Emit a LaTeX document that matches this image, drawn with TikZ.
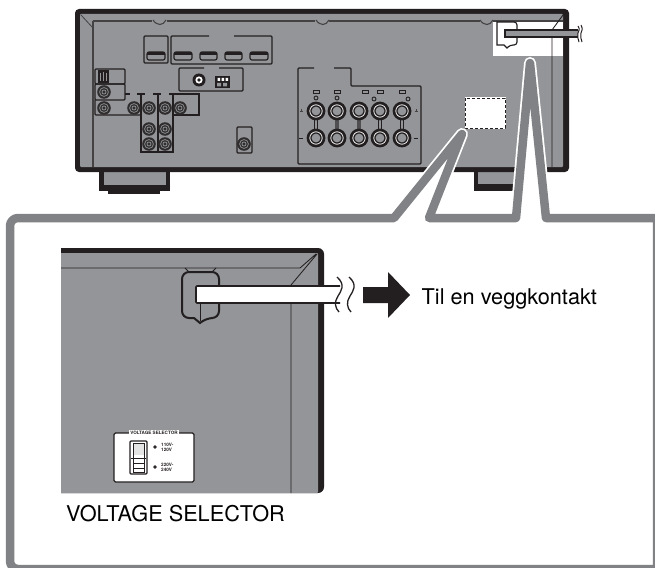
\documentclass[tikz,border=0pt]{standalone}
\usepackage{fontspec}
\setmainfont{TeX Gyre Heros}
\definecolor{panelgray}{HTML}{939598}
\definecolor{calloutgray}{HTML}{808285}
\definecolor{inkblack}{HTML}{231F20}

\begin{document}
\begin{tikzpicture}[x=1pt, y=-1pt,
  boxline/.style={draw=inkblack, line width=1.15pt},
  thinline/.style={draw=inkblack, line width=0.85pt},
  jackbody/.style={fill=inkblack!88!panelgray},
  jackring/.style={draw=panelgray, line width=0.7pt},
  postring/.style={draw=white!85!panelgray, line width=0.8pt},
  bigtext/.style={inner sep=0pt, font=\fontsize{21.7}{25}\selectfont},
  tinytext/.style={inner sep=0pt, text=inkblack, align=left, font=\fontsize{4.6}{5.2}\selectfont\bfseries}]
\useasboundingbox (0,0) rectangle (655,567);
% receiver
\fill[inkblack] (99,170) rectangle (170,191);
\fill[inkblack] (108,190) rectangle (160,194);
\fill[panelgray] (104,172) rectangle (166,185);
\fill[inkblack] (474,170) rectangle (530,191);
\fill[panelgray] (478,172) rectangle (530,184);
\fill[inkblack, rounded corners=4pt] (75,9) rectangle (569,172);
\fill[panelgray, rounded corners=1pt] (80,14) rectangle (563,167);
\draw[inkblack!70!panelgray, line width=1.6pt] (93,21) -- (563,21);
\draw[inkblack!70!panelgray, line width=1.1pt] (93,21) -- (93,167);
\draw[inkblack!70!panelgray, line width=0.8pt] (81,15) -- (93,28);
\draw[panelgray, line width=1.8pt] (152,20.8) -- (167,20.8);
\draw[inkblack!70!panelgray, line width=1.1pt] (153,20) .. controls (157,26) and (163,26) .. (166,20);
\draw[panelgray, line width=1.8pt] (315,20.8) -- (329,20.8);
\draw[inkblack!70!panelgray, line width=1.1pt] (316,20) .. controls (320,26) and (326,26) .. (329,20);
\draw[panelgray, line width=1.8pt] (480,20.8) -- (493,20.8);
\draw[inkblack!70!panelgray, line width=1.1pt] (480,20) .. controls (484,26) and (490,26) .. (493,20);
% hdmi block
\draw[boxline, rounded corners=1pt] (144,36) rectangle (168,63);
\draw[boxline, rounded corners=1pt] (209,36) -- (171,36) -- (171,64) -- (272,64) -- (272,36) -- (234,36);
\draw[boxline, rounded corners=2pt] (147,52) rectangle (165,60);
\fill[inkblack] (147,52) rectangle (165,55);
\draw[boxline, rounded corners=2pt] (174,52) rectangle (192,60);
\fill[inkblack] (174,52) rectangle (192,55);
\draw[boxline, rounded corners=2pt] (200,52) rectangle (217,60);
\fill[inkblack] (200,52) rectangle (217,55);
\draw[boxline, rounded corners=2pt] (225,52) rectangle (242,60);
\fill[inkblack] (225,52) rectangle (242,55);
\draw[boxline, rounded corners=2pt] (250,52) rectangle (268,60);
\fill[inkblack] (250,52) rectangle (268,55);
% antenna block
\draw[boxline, rounded corners=1pt] (204,68) -- (179,68) -- (179,91) -- (243,91) -- (243,68) -- (219,68);
\fill[inkblack] (199,80) circle (6.5);
\fill[white] (199,80) circle (3.6);
\fill[inkblack] (199,80) circle (1.8);
\fill[inkblack] (215,76) rectangle (230,88);
\fill[white] (217.5,78) rectangle (220,81) (221.5,78) rectangle (224,81) (225.5,78) rectangle (228,81);
\fill[panelgray] (217,83) rectangle (221,86.5) (223,83) rectangle (227,86.5);
% left inputs
\draw[boxline, rounded corners=1pt] (95,69) rectangle (125,84);
\draw[boxline, rounded corners=1pt] (95,84) rectangle (125,100);
\draw[boxline, rounded corners=1pt] (95,100) -- (95,115) -- (141,115);
\fill[inkblack] (98,70) rectangle (109,83);
\draw[panelgray, line width=0.7pt] (100.5,73) -- (100.5,81) (103.5,72) -- (103.5,81) (106.5,73) -- (106.5,81);
\draw[boxline] (125,94) -- (130,94) (137,94) -- (145,94) (153,94) -- (161,94) (169,94) -- (199,94) -- (199,115) -- (173,115);
\draw[boxline] (141,94) -- (141,152) -- (173,152) -- (173,94) (158,94) -- (158,152);
\fill[jackbody] (104,92) circle (6.8) (104,108) circle (6.8) (134,108) circle (6.8) (149,108) circle (6.8) (165,108) circle (6.8) (180,108) circle (6.8) (149,129) circle (6.8) (165,129) circle (6.8) (149,144) circle (6.8) (165,144) circle (6.8) (244,144) circle (6.8);
\draw[jackring] (104,92) circle (4.4) (104,108) circle (4.4) (134,108) circle (4.4) (149,108) circle (4.4) (165,108) circle (4.4) (180,108) circle (4.4) (149,129) circle (4.4) (165,129) circle (4.4) (149,144) circle (4.4) (165,144) circle (4.4) (244,144) circle (4.4);
\draw[jackring] (104,92) circle (2) (104,108) circle (2) (134,108) circle (2) (149,108) circle (2) (165,108) circle (2) (180,108) circle (2) (149,129) circle (2) (165,129) circle (2) (149,144) circle (2) (165,144) circle (2) (244,144) circle (2);
\draw[boxline, rounded corners=1pt] (237,127) rectangle (252,153);
% speaker block
\draw[boxline, rounded corners=1pt] (314,68) -- (298,68) -- (298,164) -- (421,164) -- (421,86) -- (351,86) -- (351,68) -- (334,68);
\draw[inkblack, line width=3.5pt] (316,115) -- (316,134) (380,115) -- (380,134) (402,115) -- (402,134);
\draw[panelgray, line width=1.2pt] (316,115) -- (316,134) (380,115) -- (380,134) (402,115) -- (402,134);
\draw[inkblack!60!panelgray, line width=3.5pt] (337,115) -- (337,134) (359,115) -- (359,134);
\fill[inkblack] (316,111) circle (9.4) (337,111) circle (9.4) (359,111) circle (9.4) (380,111) circle (9.4) (402,111) circle (9.4) (316,138) circle (9.4) (337,138) circle (9.4) (359,138) circle (9.4) (380,138) circle (9.4) (402,138) circle (9.4);
\draw[postring] (316,111) circle (6.2) (337,111) circle (6.2) (359,111) circle (6.2) (380,111) circle (6.2) (402,111) circle (6.2) (316,138) circle (6.2) (337,138) circle (6.2) (359,138) circle (6.2) (380,138) circle (6.2) (402,138) circle (6.2);
\fill[panelgray] (316,111) circle (4.4) (337,111) circle (4.4) (359,111) circle (4.4) (380,111) circle (4.4) (402,111) circle (4.4) (316,138) circle (4.4) (337,138) circle (4.4) (359,138) circle (4.4) (380,138) circle (4.4) (402,138) circle (4.4);
\draw[thinline] (313,90.5) rectangle (319,93.5) (334,90.5) rectangle (340,93.5) (362,90.5) rectangle (368,93.5) (377,90.5) rectangle (383,93.5) (399,90.5) rectangle (405,93.5);
\draw[thinline, fill=panelgray] (316,98) circle (2) (337,98) circle (2) (374,99) circle (2) (408,99) circle (2);
\draw[inkblack!70!panelgray, line width=0.4pt] (299.5,111) -- (302.5,111) (301,109.5) -- (301,112.5) (414.5,111) -- (417.5,111) (416,109.5) -- (416,112.5);
\draw[inkblack, line width=0.9pt] (299,138) -- (303,138) (414,138) -- (418,138);
% cut-outs on the rear panel
\fill[white] (493,22) rectangle (563,56);
\draw[white, fill=white, line width=1pt] (465,98) rectangle (505,128);
\draw[inkblack, densely dashed, line width=0.9pt] (465,98) rectangle (505,128);
\draw[thinline] (552,37) -- (552,167) (552,30) -- (563,15);
\draw[boxline, rounded corners=3pt] (497,22) -- (517,22) -- (517,45) -- (510,45) [sharp corners] -- (507,48) -- (504,45) -- (497,45) -- cycle;
\draw[boxline, fill=panelgray] (578,30) -- (505,30) -- (505,37) -- (578,37);
\draw[inkblack, line width=1pt] (578,26) .. controls (580,29) and (579,31) .. (578,33) .. controls (577,36) and (578,39) .. (579,42);
\draw[inkblack, line width=1pt] (581,25) .. controls (583,29) and (582,31) .. (581,33) .. controls (580,36) and (581,39) .. (582,42);
% callout frame
\draw[white, fill=white, line width=12pt, line join=round, rounded corners=8pt] (10,400) -- (10,218) [sharp corners] -- (394,218) -- (462,134) -- (429,218) -- (516,218) -- (530,63) -- (546,218) -- (657,218) -- (657,569) [rounded corners=8pt] -- (10,569) -- cycle;
\draw[calloutgray, line width=8.5pt, line join=round, rounded corners=8pt] (10,400) -- (10,218) [sharp corners] -- (394,218) -- (462,134) -- (429,218) -- (516,218) -- (530,63) -- (546,218) -- (657,218) -- (657,569) [rounded corners=8pt] -- (10,569) -- cycle;
% enlarged corner
\fill[inkblack, rounded corners=6pt] (61,248) -- (324,248) -- (324,493) [sharp corners] -- (61,493) -- cycle;
\fill[panelgray, rounded corners=1pt] (61,253) -- (318,253) -- (318,493) [sharp corners] -- (61,493) -- cycle;
\draw[thinline] (61,268) -- (300,268) -- (316,254) (291,285) -- (317,254) (291,303) -- (291,493);
\draw[thinline] (185,268) -- (189,272) (216,268) -- (212,272);
\draw[inkblack, line width=2pt, rounded corners=7pt] (182,272) -- (219,272) -- (219,318) -- (206,318) [sharp corners] -- (200,323) -- (194,318) [rounded corners=7pt] -- (182,318) -- cycle;
\draw[thinline] (200,303) -- (200,321);
\draw[inkblack, fill=white, line width=1.6pt, rounded corners=1pt] (340,286) -- (196,286) -- (196,303) -- (340,303);
\draw[inkblack, line width=1.3pt] (337,277) .. controls (346,285) and (341,291) .. (338,296) .. controls (334,302) and (335,308) .. (339,312);
\draw[inkblack, line width=1.3pt] (349,277) .. controls (358,285) and (353,291) .. (350,296) .. controls (346,302) and (347,308) .. (351,312);
\fill[inkblack] (363,287) -- (388,287) -- (388,272) -- (410,295) -- (388,318) -- (388,303) -- (363,303) -- cycle;
\node[bigtext, anchor=west] (walltext) at (421.5,299) {Til en veggkontakt};
% selector plate
\draw[boxline, fill=white, rounded corners=1.5pt] (114,433) rectangle (194,482);
\node[tinytext, fill=white, inner xsep=1pt, inner ysep=0.6pt, font=\fontsize{4.6}{5}\selectfont\bfseries] (platetitle) at (154,432.5) {VOLTAGE SELECTOR};
\draw[boxline, line width=1.3pt, rounded corners=1pt] (130,441) rectangle (147,474);
\draw[thinline, line width=0.5pt] (133,443) rectangle (144,472);
\fill[white!75!panelgray] (133.5,443.5) rectangle (143.5,455);
\draw[thinline] (131,458) -- (146,458) (133,463) -- (144,463) (133,468) -- (144,468);
\draw[thinline, fill=panelgray] (155,447) circle (1.3) (155,467) circle (1.3);
\node[tinytext, anchor=west] (lowrange) at (161,447.5) {110V-\\120V};
\node[tinytext, anchor=west] (highrange) at (161,467) {220V-\\240V};
\node[bigtext, anchor=west] (selectortext) at (66,514) {VOLTAGE SELECTOR};
\end{tikzpicture}
\end{document}
